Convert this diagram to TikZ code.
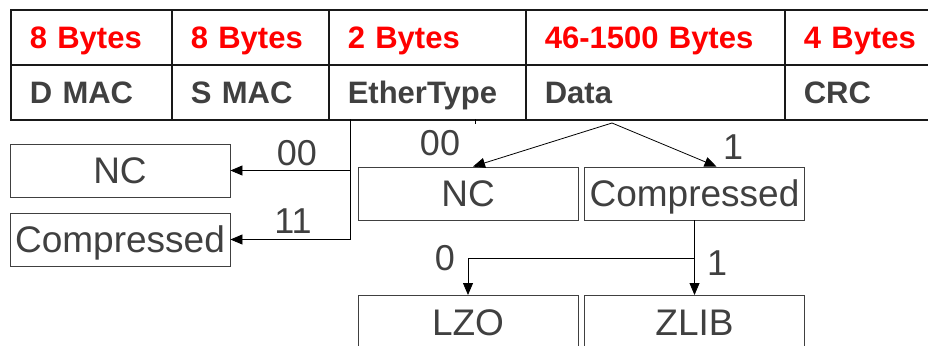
\documentclass[tikz,border=0pt]{standalone}
\usepackage{fontspec}
\setmainfont{Liberation Sans}
\usetikzlibrary{arrows.meta,calc}
\definecolor{ink}{HTML}{404040}
\definecolor{hdr}{HTML}{FF0000}
\begin{document}
\begin{tikzpicture}[x=1pt,y=-1pt,
  cell/.style={draw=black!90,line width=1.6pt,anchor=north west,minimum height=55pt,
    inner xsep=19pt,inner ysep=0pt,align=left,text height=22.2pt,text depth=0pt,
    font=\fontsize{31}{36}\selectfont\bfseries},
  size/.style={cell,text=hdr},
  field/.style={cell,text=ink},
  box/.style={draw=ink,line width=0.9pt,text=ink,minimum width=220pt,minimum height=53pt,
    inner sep=0pt,text height=26.5pt,text depth=0pt,font=\fontsize{37}{40}\selectfont},
  bit/.style={text=ink,inner sep=0pt,font=\fontsize{36}{40}\selectfont},
  link/.style={draw=black,line width=0.8pt},
  arr/.style={link,-{Triangle[length=12pt,width=10pt]}}]
\useasboundingbox (0,0) rectangle (928,345);
\clip (0,0) rectangle (928,345);
\fill[white] (0,0) rectangle (928,345);

% frame header: sizes on top, field names below
\node[size,text width=123pt] (s1) at (10,9) {8 Bytes};
\node[size,text width=119pt] (s2) at (171,9) {8 Bytes};
\node[size,text width=159pt] (s3) at (328,9) {2 Bytes};
\node[size,text width=221pt] (s4) at (525,9) {46-1500 Bytes};
\node[size,text width=140pt] (s5) at (784,9) {4 Bytes};
\node[field,text width=123pt] (f1) at (10,64) {D MAC};
\node[field,text width=119pt] (f2) at (171,64) {S MAC};
\node[field,text width=159pt] (f3) at (328,64) {EtherType};
\node[field,text width=221pt] (f4) at (525,64) {Data};
\node[field,text width=140pt] (f5) at (784,64) {CRC};

% EtherType decoding
\node[box] (ncL) at (120,170.5) {NC};
\node[box] (cmpL) at (120,239.5) {Compressed};
\coordinate (etTap) at (350,119);
\draw[arr] (etTap) |- (ncL.east);
\draw[arr] (etTap) |- (cmpL.east);
\node[bit] (b00L) at (297,153) {00};
\node[bit] (b11L) at (293,221) {11};

% small mark under EtherType
\coordinate (tickA) at (475,119);
\coordinate (tickB) at (475,124);
\draw[link] (tickA) -- (tickB);

% Data decoding
\node[box] (ncM) at (468,193.5) {NC};
\node[box] (cmpM) at (694.5,193.5) {Compressed};
\coordinate (dataTap) at (612,123);
\draw[arr] (dataTap) -- ($(ncM.north)+(5,0)$);
\draw[arr] (dataTap) -- ($(cmpM.north)+(22,0)$);
\node[bit] (b00M) at (440,143) {00};
\node[bit] (b1M) at (733,147) {1};

% compression algorithm
\node[box,anchor=north] (lzo) at (468,295) {LZO};
\node[box,anchor=north] (zlib) at (694.5,295) {ZLIB};
\coordinate (split) at (694.5,258);
\draw[arr] (cmpM.south) -- (zlib.north);
\draw[arr] (split) -| (lzo.north);
\node[bit] (b0) at (445,258) {0};
\node[bit] (b1) at (717,263) {1};
\end{tikzpicture}
\end{document}
